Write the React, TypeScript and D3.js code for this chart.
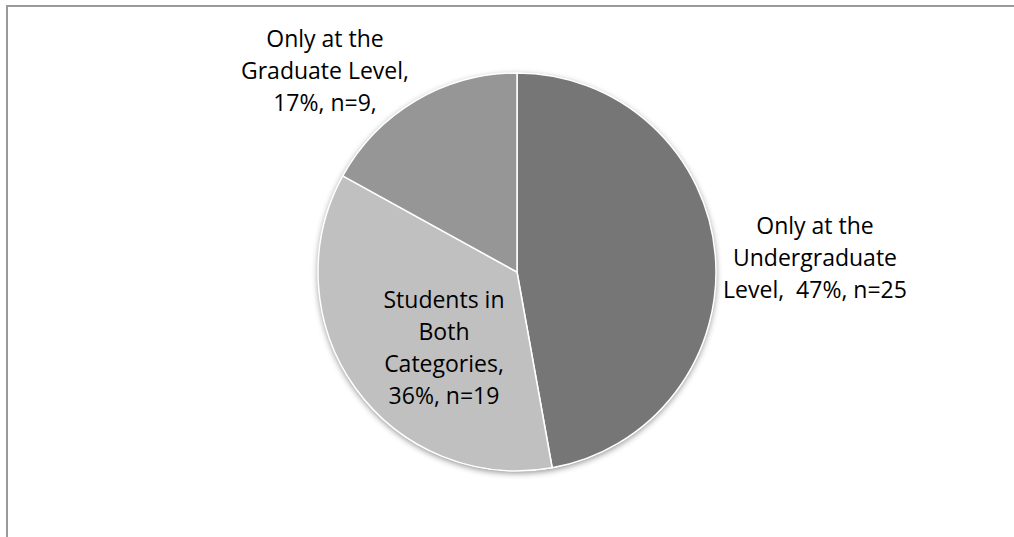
import React from "react";
import * as d3 from "d3";

const categories = ["Only at the Undergraduate Level", "Students in Both Categories", "Only at the Graduate Level"];
const counts = [25, 19, 9];
const percents = ["47%", "36%", "17%"];
const labelLines = [
  ["Only at the", "Undergraduate", "Level,  47%, n=25"],
  ["Students in", "Both", "Categories,", "36%, n=19"],
  ["Only at the", "Graduate Level,", "17%, n=9,"],
];
const colors = ["#767676", "#c0c0c0", "#969696"];

const W = 1014;
const H = 537;
const cx = 517;
const cy = 272;
const R = 199;
const FONT = "'Open Sans', sans-serif";
const FS = 23;
const LH = 32;

// label anchor (center x, first baseline y) per slice
const labelPos = [
  { x: 815, y: 234 },
  { x: 444, y: 308 },
  { x: 325, y: 47 },
];

export default function App() {
  const data = categories.map((c, i) => ({ c, v: counts[i], p: percents[i], i }));
  const pie = d3.pie<any>().value((d) => d.v).sort(null);
  const arcs = pie(data);
  const arc = d3.arc<any>().innerRadius(0).outerRadius(R);
  return (
    <svg width={W} height={H} style={{ position: "absolute", left: 0, top: 0 }}>
      <defs>
        <filter id="sh" x="-20%" y="-20%" width="140%" height="140%">
          <feDropShadow dx="0" dy="2" stdDeviation="3" floodColor="#000" floodOpacity="0.45" />
        </filter>
      </defs>
      <rect x={0} y={0} width={W} height={H} fill="#fff" />
      <rect x={7} y={6} width={W + 20} height={H + 20} fill="none" stroke="#9a9a9a" strokeWidth={2} />
      <g transform={`translate(${cx},${cy})`}>
        <circle r={R} fill="#fff" filter="url(#sh)" />
        {arcs.map((a, i) => (
          <path key={i} d={arc(a) || ""} fill={colors[i]} stroke="#fff" strokeWidth={1.5} strokeLinejoin="round" />
        ))}
      </g>
      {labelLines.map((lines, i) => (
        <text key={i} fontFamily={FONT} fontSize={FS} fill="#000" textAnchor="middle" style={{ whiteSpace: "pre" }}>
          {lines.map((l, j) => (
            <tspan key={j} x={labelPos[i].x} y={labelPos[i].y + j * LH}>
              {l}
            </tspan>
          ))}
        </text>
      ))}
    </svg>
  );
}
